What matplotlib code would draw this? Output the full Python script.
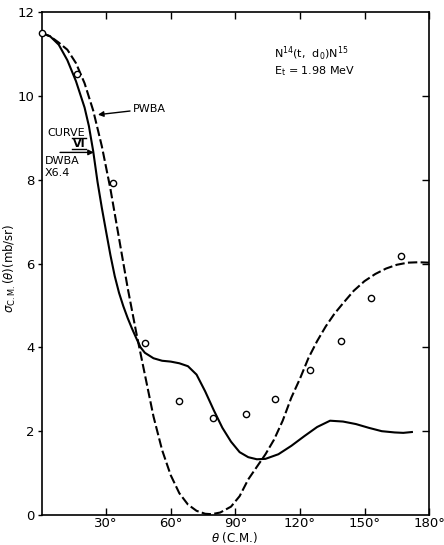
import matplotlib.pyplot as plt

# N14(t,d0)N15 angular distribution, Et = 1.98 MeV
exp_theta = [0, 16.7, 33.4, 48.2, 64, 79.8, 95, 108.5, 124.8, 139.1, 153.1, 167]
exp_sigma = [11.5, 10.52, 7.93, 4.1, 2.71, 2.31, 2.40, 2.76, 3.45, 4.14, 5.17, 6.17]

# DWBA (curve VI, x6.4)
dwba_theta = [0, 4, 8, 12, 16, 20, 22, 24, 26, 28, 30, 32, 34, 36, 38, 40, 42,
              44, 46, 48, 52, 56, 60, 64, 68, 72, 76, 80, 84, 88, 92, 96, 100,
              104, 110, 116, 122, 128, 134, 140, 146, 152, 158, 164, 168, 172]
dwba_sigma = [11.5, 11.42, 11.22, 10.85, 10.35, 9.72, 9.28, 8.68, 7.95, 7.33,
              6.76, 6.2, 5.7, 5.3, 4.98, 4.7, 4.45, 4.22, 4.0, 3.87, 3.74,
              3.68, 3.66, 3.62, 3.55, 3.35, 2.95, 2.5, 2.08, 1.75, 1.5, 1.38,
              1.33, 1.34, 1.45, 1.65, 1.88, 2.1, 2.25, 2.23, 2.17, 2.08, 2.0,
              1.97, 1.96, 1.98]

# PWBA
pwba_theta = [0, 4, 8, 12, 16, 20, 24, 28, 32, 36, 40, 44, 48, 52, 56, 60, 64,
              68, 72, 76, 79, 83, 88, 92, 96, 100, 104, 108, 112, 116, 120, 124,
              128, 132, 136, 140, 145, 150, 155, 160, 165, 170, 175, 180]
pwba_sigma = [11.5, 11.42, 11.27, 11.1, 10.78, 10.3, 9.65, 8.8, 7.78, 6.6,
              5.42, 4.35, 3.35, 2.35, 1.55, 0.95, 0.52, 0.25, 0.1, 0.03, 0.02,
              0.06, 0.2, 0.45, 0.85, 1.15, 1.45, 1.8, 2.25, 2.8, 3.25, 3.75,
              4.15, 4.5, 4.8, 5.05, 5.35, 5.58, 5.75, 5.88, 5.97, 6.02, 6.03,
              6.02]

x_ticks = [30, 60, 90, 120, 150, 180]
x_labels = ["30°", "60°", "90°", "120°", "150°", "180°"]
y_ticks = [0, 2, 4, 6, 8, 10, 12]

plt.rcParams['font.family'] = 'DejaVu Sans'
fig = plt.figure(figsize=(4.44, 5.45), dpi=100)
ax = fig.add_axes([0.0935, 0.055, 0.873, 0.923])

ax.plot(dwba_theta, dwba_sigma, color='black', lw=1.5)
ax.plot(pwba_theta, pwba_sigma, color='black', lw=1.5, dashes=(4.5, 1.6))
ax.plot(exp_theta, exp_sigma, 'o', ms=4.5, mfc='white', mec='black', mew=1,
        clip_on=False, zorder=5)

ax.set_xlim(0, 180)
ax.set_ylim(0, 12)
ax.set_xticks(x_ticks)
ax.set_xticklabels(x_labels, fontsize=9.5)
ax.set_yticks(y_ticks)
ax.set_yticklabels([str(v) for v in y_ticks], fontsize=9.5)
ax.tick_params(axis='x', direction='in', top=True, bottom=True, length=5,
               width=1, pad=1.5)
ax.tick_params(axis='y', direction='out', left=True, right=False, length=3,
               width=1, pad=2)
for s in ax.spines.values():
    s.set_linewidth(1.2)

rax = ax.twinx()
rax.set_ylim(0, 12)
rax.set_yticks([2, 4, 6, 8, 10])
rax.tick_params(axis='y', direction='in', length=5, width=1, labelright=False)
for s in rax.spines.values():
    s.set_visible(False)

ax.set_xlabel(r"$\theta$ (C.M.)", fontsize=8.5)
ax.xaxis.set_label_coords(0.499, -0.03)
ax.set_ylabel(r"$\sigma_{\mathrm{C.M.}}(\theta)$(mb/sr)", fontsize=8.5)
ax.yaxis.set_label_coords(-0.06, 0.49)

# reaction label
ax.text(108, 11.0, r"N$^{14}$(t,  d$_0$)N$^{15}$", fontsize=8, va='center')
ax.text(108, 10.6, r"E$_{\mathrm{t}}$ = 1.98 MeV", fontsize=8, va='center')

# curve labels
ax.annotate("PWBA", xy=(26.2, 9.55), xytext=(42.4, 9.69), fontsize=8,
            va='center', arrowprops=dict(arrowstyle='-|>', lw=1, color='black',
                                         mutation_scale=8, shrinkA=0, shrinkB=0))
ax.text(2.5, 9.12, "CURVE", fontsize=8, va='center')
ax.text(14.6, 8.86, "VI", fontsize=8, va='center', fontweight='bold')
ax.plot([14.3, 20.8], [8.72, 8.72], color='black', lw=1)
ax.plot([14.3, 20.8], [9.0, 9.0], color='black', lw=1)
ax.annotate("", xy=(24.3, 8.65), xytext=(8.6, 8.65),
            arrowprops=dict(arrowstyle='-|>', lw=1, color='black',
                            mutation_scale=8, shrinkA=0, shrinkB=0))
ax.text(1.6, 8.45, "DWBA", fontsize=8, va='center')
ax.text(1.6, 8.15, "X6.4", fontsize=8, va='center')

fig.savefig("out.png", dpi=100)
